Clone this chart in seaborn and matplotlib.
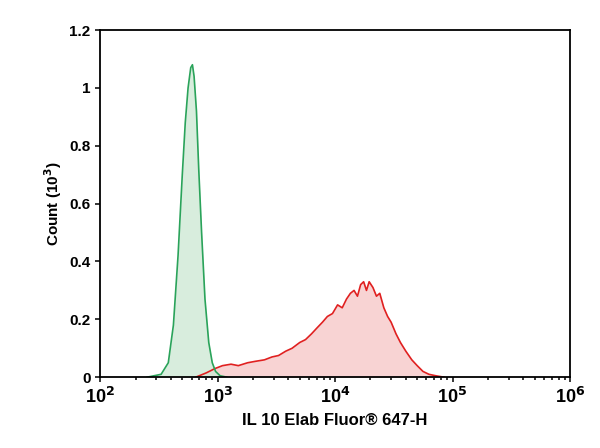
import matplotlib
matplotlib.use("Agg")
import matplotlib.pyplot as plt
import seaborn as sns
import numpy as np
import pandas as pd

green_x = [250, 330, 380, 420, 460, 500, 530, 560, 590, 610, 630, 660, 690, 730, 780, 840, 900, 960, 1050, 1200]
green_y = [0.0, 0.01, 0.05, 0.18, 0.42, 0.70, 0.88, 1.00, 1.07, 1.08, 1.04, 0.92, 0.72, 0.50, 0.27, 0.12, 0.05, 0.02, 0.005, 0.0]

red_x = [650, 800, 950, 1100, 1300, 1500, 1800, 2100, 2500, 2900, 3300, 3800, 4300, 5000, 5600, 6300, 7000, 7800, 8600,
         9500, 10500, 11500, 12500, 13500, 14500, 15500, 16500, 17500, 18500, 19500, 21000, 22500, 24000, 26000, 28000,
         30000, 33000, 36000, 40000, 45000, 50000, 56000, 63000, 72000, 85000]
red_y = [0.0, 0.015, 0.03, 0.04, 0.045, 0.04, 0.05, 0.055, 0.06, 0.07, 0.075, 0.09, 0.10, 0.12, 0.13, 0.15, 0.17, 0.19, 0.21,
         0.22, 0.25, 0.24, 0.27, 0.29, 0.30, 0.28, 0.32, 0.33, 0.30, 0.33, 0.31, 0.28, 0.29, 0.24, 0.21,
         0.19, 0.15, 0.12, 0.09, 0.06, 0.04, 0.02, 0.01, 0.005, 0.0]

x_ticks = [1e2, 1e3, 1e4, 1e5, 1e6]
x_labels = ["10$^{\\mathbf{2}}$", "10$^{\\mathbf{3}}$", "10$^{\\mathbf{4}}$", "10$^{\\mathbf{5}}$", "10$^{\\mathbf{6}}$"]
y_ticks = [0, 0.2, 0.4, 0.6, 0.8, 1, 1.2]
y_labels = ["0", "0.2", "0.4", "0.6", "0.8", "1", "1.2"]

sns.set_style("ticks")
plt.rcParams['font.family'] = ['Liberation Sans', 'DejaVu Sans']
plt.rcParams['font.weight'] = 'bold'

fig = plt.figure(figsize=(6, 4.48), dpi=100)
ax = fig.add_axes([0.167, 0.158, 0.783, 0.775])

green = "#2aa35a"
red = "#e02020"
dg = pd.DataFrame({"x": green_x, "y": green_y})
dr = pd.DataFrame({"x": red_x, "y": red_y})
ax.fill_between(dr.x, dr.y, color="#f7c8c8", alpha=0.8, lw=0)
ax.fill_between(dg.x, dg.y, color="#cfe9d5", alpha=0.8, lw=0)
sns.lineplot(data=dr, x="x", y="y", ax=ax, color=red, lw=1.2, estimator=None)
sns.lineplot(data=dg, x="x", y="y", ax=ax, color=green, lw=1.2, estimator=None)

ax.set_xscale("log")
ax.set_xlim(1e2, 1e6)
ax.set_ylim(0, 1.2)
ax.set_xticks(x_ticks)
ax.set_xticklabels(x_labels, fontsize=13, fontweight="bold", color="black")
ax.set_yticks(y_ticks)
ax.set_yticklabels(y_labels, fontsize=11, fontweight="bold", color="black")
for s in ax.spines.values():
    s.set_linewidth(1.3)
    s.set_color("black")
ax.tick_params(which="both", direction="out", width=1.1, color="black")
ax.set_xlabel("IL 10 Elab Fluor® 647-H", fontsize=12, fontweight="bold", color="black")
ax.set_ylabel("Count (10$^{\\mathbf{3}}$)", fontsize=11, fontweight="bold", color="black")
fig.savefig("out.png", dpi=100)
